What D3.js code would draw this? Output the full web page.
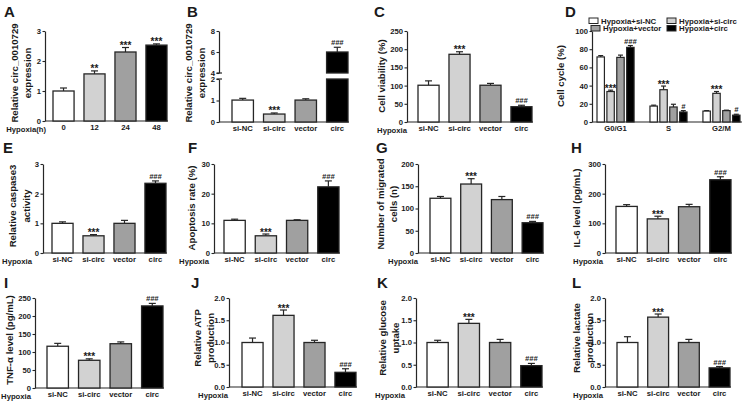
<!DOCTYPE html>
<html><head><meta charset="utf-8">
<script src="https://cdn.jsdelivr.net/npm/d3@7"></script>
<style>
body{margin:0;background:#fff}
svg{display:block}
text{font-family:"Liberation Sans",Arial,sans-serif;fill:#1a1a1a}
</style>
</head><body>
<svg id="c" width="755" height="407"></svg>
<script>
// ---------- DATA ----------
const groups = ["si-NC", "si-circ", "vector", "circ"];
const hours = ["0", "12", "24", "48"];
const fills = ["#ffffff", "#d2d2d2", "#a0a0a0", "#000000"];

const aValues = [1.0, 1.57, 2.3, 2.53], aErrors = [0.1, 0.1, 0.15, 0.04], aMarks = ["", "**", "***", "***"];
const aTicks = [0, 1, 2, 3];

const bValues = [1.02, 0.37, 1.02, 6.0], bErrors = [0.08, 0.05, 0.06, 0.45], bMarks = ["", "***", "", "###"];
const bTicksLow = [0, 1, 2], bTicksHigh = [4, 6, 8];

const cValues = [101, 186, 101, 42], cErrors = [12, 7, 5, 4], cMarks = ["", "***", "", "###"];
const cTicks = [0, 50, 100, 150, 200, 250];

const dSeries = ["Hypoxia+si-NC", "Hypoxia+si-circ", "Hypoxia+vector", "Hypoxia+circ"];
const dPhases = ["G0/G1", "S", "G2/M"];
const dValues = [[71.5, 17.5, 12], [33.5, 35.5, 31.5], [71, 16.5, 12.5], [82, 11, 7.5]];
const dErrors = [[1.5, 1, 0.5], [1.5, 4, 2], [2.5, 3, 0.5], [2, 1.5, 1]];
const dMarks = [["", "", ""], ["***", "***", "***"], ["", "", ""], ["###", "#", "#"]];
const dTicks = [0, 20, 40, 60, 80, 100];

const eValues = [1.0, 0.58, 1.0, 2.35], eErrors = [0.05, 0.04, 0.1, 0.08], eMarks = ["", "***", "", "###"];
const eTicks = [0, 1, 2, 3];

const fValues = [11, 5.8, 11, 22.3], fErrors = [0.4, 0.6, 0.2, 2], fMarks = ["", "***", "", "###"];
const fTicks = [0, 10, 20, 30];

const gValues = [123, 155, 120, 68], gErrors = [4, 12, 7, 3], gMarks = ["", "***", "", "###"];
const gTicks = [0, 50, 100, 150, 200];

const hValues = [157, 115, 156, 247], hErrors = [6, 9, 8, 10], hMarks = ["", "***", "", "###"];
const hTicks = [0, 100, 200, 300];

const iValues = [116, 77, 123, 228], iErrors = [8, 4, 5, 7], iMarks = ["", "***", "", "###"];
const iTicks = [0, 50, 100, 150, 200, 250];

const jValues = [1.0, 1.61, 1.0, 0.33], jErrors = [0.1, 0.12, 0.05, 0.08], jMarks = ["", "***", "", "###"];
const kValues = [1.0, 1.43, 1.0, 0.48], kErrors = [0.05, 0.09, 0.07, 0.05], kMarks = ["", "***", "", "###"];
const lValues = [1.0, 1.57, 1.0, 0.43], lErrors = [0.13, 0.07, 0.07, 0.03], lMarks = ["", "***", "", "###"];
const ratioTicks = [0, 0.5, 1.0, 1.5, 2.0];

// ---------- DRAW ----------
const svg = d3.select("#c");
const STROKE = "#262626";
const TICKFONT = 7.7;

function letter(t, x, y) {
  svg.append("text").attr("x", x).attr("y", y).text(t)
    .style("font-size", "15px").style("font-weight", "bold");
}
function yLabel(lines, xs, yc) {
  lines.forEach((l, i) => {
    svg.append("text").attr("transform", `translate(${xs[i]},${yc}) rotate(-90)`)
      .attr("text-anchor", "middle").attr("dy", "0.35em").text(l)
      .style("font-size", "9.6px").style("font-weight", "bold");
  });
}
function styleAxis(sel) {
  sel.select(".domain").attr("stroke", STROKE).attr("stroke-width", 1.2);
  sel.selectAll(".tick line").attr("stroke", STROKE).attr("stroke-width", 1.1);
  sel.selectAll(".tick text").style("font-size", TICKFONT + "px").style("font-weight", "bold").attr("fill", "#1a1a1a");
}
function leftAxis(scale, ticks, fmt) {
  return d3.axisLeft(scale).tickValues(ticks).tickSize(2.5).tickSizeOuter(0).tickPadding(1.5)
    .tickFormat(fmt || d3.format("d"));
}
function hypoxia(t, xEnd, y) {
  svg.append("text").attr("x", xEnd).attr("y", y).attr("text-anchor", "end").text(t)
    .style("font-size", TICKFONT + "px").style("font-weight", "bold");
}
function errBar(g, cx, yv, ye, half) {
  g.append("line").attr("x1", cx).attr("x2", cx).attr("y1", yv).attr("y2", ye).attr("stroke", STROKE).attr("stroke-width", 1.2);
  g.append("line").attr("x1", cx - half).attr("x2", cx + half).attr("y1", ye).attr("y2", ye).attr("stroke", STROKE).attr("stroke-width", 1.2);
}
function mark(g, t, cx, ye) {
  if (!t) return;
  const hash = t[0] === "#";
  g.append("text").attr("x", cx).attr("y", hash ? ye - 2 : ye + 1.5).attr("text-anchor", "middle").text(t)
    .style("font-size", hash ? "7.5px" : "10px").style("font-weight", "bold")
    .style("font-style", hash ? "italic" : "normal");
}

function barPanel(p) {
  const g = svg.append("g");
  const x = d3.scaleBand().domain(p.cats).range([p.barL, p.barR]).paddingInner(0.32).paddingOuter(0);
  const y = d3.scaleLinear().domain([0, p.max]).range([p.y0, p.y1]);
  const ax = g.append("g").attr("transform", `translate(${p.axisX},0)`).call(leftAxis(y, p.ticks, p.fmt));
  styleAxis(ax);
  const xb = g.append("g").attr("transform", `translate(0,${p.y0})`)
    .call(d3.axisBottom(x).tickSize(0).tickPadding(4));
  xb.select(".domain").remove();
  styleAxis(xb);
  g.append("line").attr("x1", p.axisX).attr("x2", p.barR + 1).attr("y1", p.y0).attr("y2", p.y0)
    .attr("stroke", STROKE).attr("stroke-width", 1.2);
  p.cats.forEach((c, i) => {
    const cx = x(c) + x.bandwidth() / 2;
    errBar(g, cx, y(p.values[i]), y(p.values[i] + p.errors[i]), 3.5);
    g.append("rect").attr("x", x(c)).attr("y", y(p.values[i])).attr("width", x.bandwidth())
      .attr("height", p.y0 - y(p.values[i])).attr("fill", fills[i]).attr("stroke", STROKE).attr("stroke-width", 1.3);
    mark(g, p.marks[i], cx, y(p.values[i] + p.errors[i]));
  });
  if (p.hyp) hypoxia(p.hyp, p.hypX, p.y0 + 10.5);
  yLabel(p.ylabel, p.ylx, p.ylc);
  letter(p.letter, p.lx, p.ly);
}

// A
barPanel({letter: "A", lx: 4, ly: 17, cats: hours, values: aValues, errors: aErrors, marks: aMarks,
  axisX: 45, barL: 53, barR: 167, y0: 121, y1: 31, max: 3, ticks: aTicks,
  hyp: "Hypoxia(h)", hypX: 46, ylabel: ["Relative circ_0010729", "expression"], ylx: [15, 28], ylc: 73});

// B (broken axis)
(function () {
  const g = svg.append("g");
  const axisX = 219, barL = 232, barR = 348, y0 = 122;
  const x = d3.scaleBand().domain(groups).range([barL, barR]).paddingInner(0.32).paddingOuter(0);
  const yLow = d3.scaleLinear().domain([0, 2]).range([y0, 79]);
  const yHigh = d3.scaleLinear().domain([4, 8]).range([73, 31]);
  const a1 = g.append("g").attr("transform", `translate(${axisX},0)`).call(leftAxis(yLow, bTicksLow));
  const a2 = g.append("g").attr("transform", `translate(${axisX},0)`).call(leftAxis(yHigh, bTicksHigh));
  styleAxis(a1); styleAxis(a2);
  [yLow(2), yHigh(4)].forEach(yy => g.append("line").attr("x1", axisX - 2.5).attr("x2", axisX + 3)
    .attr("y1", yy).attr("y2", yy).attr("stroke", STROKE).attr("stroke-width", 1.2));
  const xb = g.append("g").attr("transform", `translate(0,${y0})`).call(d3.axisBottom(x).tickSize(0).tickPadding(4));
  xb.select(".domain").remove(); styleAxis(xb);
  g.append("line").attr("x1", axisX).attr("x2", barR + 1).attr("y1", y0).attr("y2", y0).attr("stroke", STROKE).attr("stroke-width", 1.2);
  groups.forEach((c, i) => {
    const v = bValues[i], e = bErrors[i], cx = x(c) + x.bandwidth() / 2, w = x.bandwidth();
    if (v <= 2) {
      errBar(g, cx, yLow(v), yLow(v + e), 3.5);
      g.append("rect").attr("x", x(c)).attr("y", yLow(v)).attr("width", w).attr("height", y0 - yLow(v))
        .attr("fill", fills[i]).attr("stroke", STROKE).attr("stroke-width", 1.3);
      mark(g, bMarks[i], cx, yLow(v + e));
    } else {
      errBar(g, cx, yHigh(v), yHigh(v + e), 3.5);
      g.append("rect").attr("x", x(c)).attr("y", yLow(2)).attr("width", w).attr("height", y0 - yLow(2))
        .attr("fill", fills[i]).attr("stroke", STROKE).attr("stroke-width", 1.3);
      g.append("rect").attr("x", x(c)).attr("y", yHigh(v)).attr("width", w).attr("height", yHigh(4) - yHigh(v))
        .attr("fill", fills[i]).attr("stroke", STROKE).attr("stroke-width", 1.3);
      mark(g, bMarks[i], cx, yHigh(v + e));
    }
  });
  yLabel(["Relative circ_0010729", "expression"], [189, 202], 73);
  letter("B", 187, 17);
})();

// C
barPanel({letter: "C", lx: 374, ly: 17, cats: groups, values: cValues, errors: cErrors, marks: cMarks,
  axisX: 407, barL: 418, barR: 532, y0: 122, y1: 31, max: 250, ticks: cTicks,
  hyp: "Hypoxia", hypX: 407, ylabel: ["Cell viability (%)"], ylx: [382], ylc: 76});

// D (grouped)
(function () {
  const g = svg.append("g");
  const axisX = 592, y0 = 122;
  const x0 = d3.scaleBand().domain(dPhases).range([597, 740]).paddingInner(0.3).paddingOuter(0);
  const x1 = d3.scaleBand().domain(dSeries).range([0, x0.bandwidth()]).paddingInner(0.25);
  const y = d3.scaleLinear().domain([0, 100]).range([y0, 31]);
  const ax = g.append("g").attr("transform", `translate(${axisX},0)`).call(leftAxis(y, dTicks));
  styleAxis(ax);
  const xb = g.append("g").attr("transform", `translate(0,${y0})`).call(d3.axisBottom(x0).tickSize(0).tickPadding(4));
  xb.select(".domain").remove(); styleAxis(xb);
  g.append("line").attr("x1", axisX).attr("x2", 742).attr("y1", y0).attr("y2", y0).attr("stroke", STROKE).attr("stroke-width", 1.2);
  dSeries.forEach((s, si) => {
    dPhases.forEach((ph, pi) => {
      const v = dValues[si][pi], e = dErrors[si][pi];
      const bx = x0(ph) + x1(s), w = x1.bandwidth(), cx = bx + w / 2;
      errBar(g, cx, y(v), y(v + e), 2.5);
      g.append("rect").attr("x", bx).attr("y", y(v)).attr("width", w).attr("height", y0 - y(v))
        .attr("fill", fills[si]).attr("stroke", STROKE).attr("stroke-width", 1.2);
      mark(g, dMarks[si][pi], cx, y(v + e));
    });
  });
  // legend
  const pos = [[589, 23.5], [667, 23.5], [591, 31], [667, 31]];
  dSeries.forEach((s, i) => {
    g.append("rect").attr("x", pos[i][0]).attr("y", pos[i][1] - 5.5).attr("width", 9).attr("height", 5.5)
      .attr("fill", fills[i]).attr("stroke", STROKE).attr("stroke-width", 1);
    g.append("text").attr("x", pos[i][0] + 12).attr("y", pos[i][1]).text(s)
      .style("font-size", "7.8px").style("font-weight", "bold");
  });
  yLabel(["Cell cycle (%)"], [561], 76);
  letter("D", 565, 17);
})();

// E
barPanel({letter: "E", lx: 3, ly: 153, cats: groups, values: eValues, errors: eErrors, marks: eMarks,
  axisX: 43, barL: 52, barR: 166, y0: 253, y1: 164, max: 3, ticks: eTicks,
  hyp: "Hypoxia", hypX: 32, ylabel: ["Relative caspase3", "activity"], ylx: [13, 27], ylc: 206});

// F
barPanel({letter: "F", lx: 188, ly: 153, cats: groups, values: fValues, errors: fErrors, marks: fMarks,
  axisX: 214, barL: 224, barR: 339, y0: 253, y1: 164, max: 30, ticks: fTicks,
  hyp: "Hypoxia", hypX: 209, ylabel: ["Apoptosis rate (%)"], ylx: [192], ylc: 208});

// G
barPanel({letter: "G", lx: 376, ly: 153, cats: groups, values: gValues, errors: gErrors, marks: gMarks,
  axisX: 418, barL: 430, barR: 543, y0: 253, y1: 164, max: 200, ticks: gTicks,
  hyp: "Hypoxia", hypX: 418, ylabel: ["Number of migrated", "cells (n)"], ylx: [381, 394], ylc: 204});

// H
barPanel({letter: "H", lx: 571, ly: 153, cats: groups, values: hValues, errors: hErrors, marks: hMarks,
  axisX: 605, barL: 616, barR: 731, y0: 253, y1: 164, max: 300, ticks: hTicks,
  hyp: "Hypoxia", hypX: 603, ylabel: ["IL-6 level (pg/mL)"], ylx: [577], ylc: 208});

// I
barPanel({letter: "I", lx: 4, ly: 288, cats: groups, values: iValues, errors: iErrors, marks: iMarks,
  axisX: 35, barL: 47, barR: 163, y0: 388, y1: 298, max: 250, ticks: iTicks,
  hyp: "Hypoxia", hypX: 31, ylabel: ["TNF-\u03b1 level (pg/mL)"], ylx: [10], ylc: 340});

const f1 = d3.format(".1f");
// J
barPanel({letter: "J", lx: 191, ly: 288, cats: groups, values: jValues, errors: jErrors, marks: jMarks,
  axisX: 229, barL: 242, barR: 356, y0: 387, y1: 298, max: 2, ticks: ratioTicks, fmt: f1,
  hyp: "Hypoxia", hypX: 228, ylabel: ["Relative ATP", "production"], ylx: [198, 211], ylc: 338});

// K
barPanel({letter: "K", lx: 377, ly: 288, cats: groups, values: kValues, errors: kErrors, marks: kMarks,
  axisX: 416, barL: 427, barR: 542, y0: 387, y1: 298, max: 2, ticks: ratioTicks, fmt: f1,
  hyp: "Hypoxia", hypX: 405, ylabel: ["Relative glucose", "uptake"], ylx: [383, 396], ylc: 338});

// L
barPanel({letter: "L", lx: 572, ly: 288, cats: groups, values: lValues, errors: lErrors, marks: lMarks,
  axisX: 605, barL: 617, barR: 730, y0: 387, y1: 298, max: 2, ticks: ratioTicks, fmt: f1,
  hyp: "Hypoxia", hypX: 603, ylabel: ["Relative lactate", "production"], ylx: [577, 590], ylc: 338});
</script>
</body></html>
